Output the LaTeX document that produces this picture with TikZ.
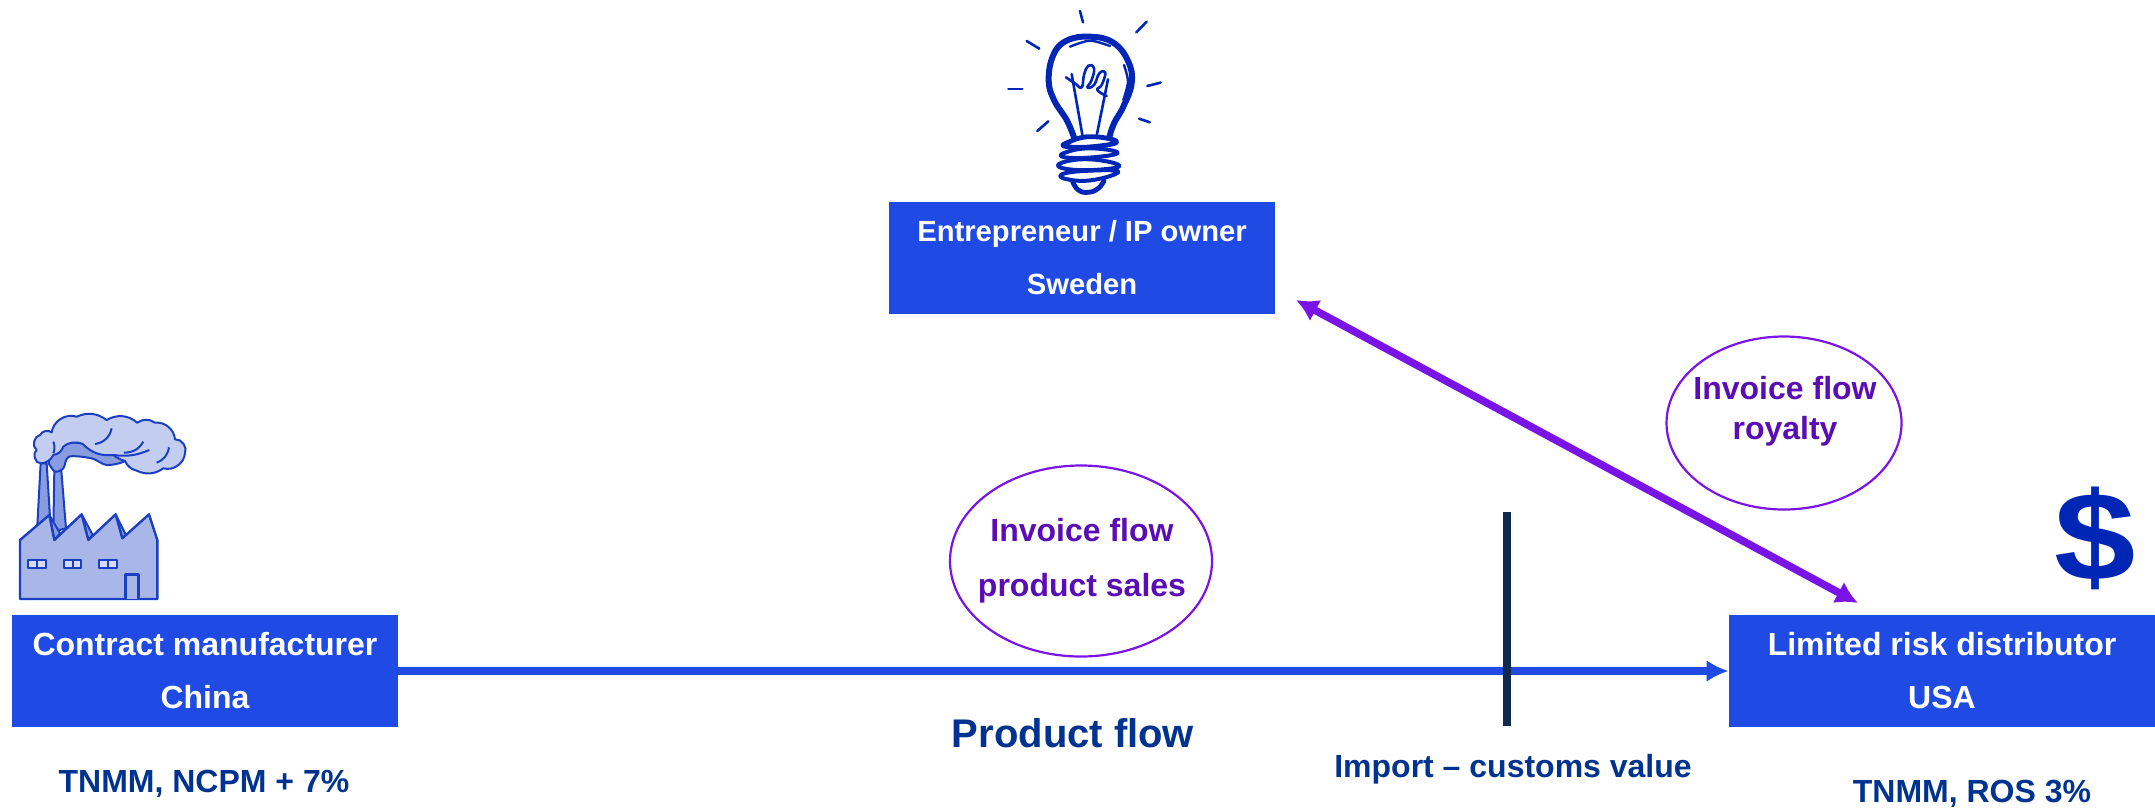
\documentclass[tikz,border=0pt]{standalone}
\usepackage{fontspec}
\setmainfont{Liberation Sans}
\usetikzlibrary{positioning,shapes.geometric,arrows.meta}
\definecolor{boxblue}{HTML}{204AE4}
\definecolor{navytext}{HTML}{00338F}
\definecolor{violettext}{HTML}{5A0DB4}
\definecolor{violetline}{HTML}{7A14E6}
\definecolor{iconblue}{HTML}{0026B5}
\definecolor{barnavy}{HTML}{0F2A4E}
\definecolor{factoryfill}{HTML}{A9B7E8}
\definecolor{cloudfill}{HTML}{C3CDEF}
\definecolor{smokefill}{HTML}{889DE0}
\begin{document}
\begin{tikzpicture}[x=0.5pt,y=-0.5pt,>=latex]

	\tikzset{
		entity/.style={fill=boxblue, text=white, align=center, inner sep=0pt,
			font=\fontsize{16}{26.5}\selectfont\bfseries, minimum height=56pt},
		flowring/.style={draw=violetline, line width=1.1pt, ellipse, inner sep=0pt},
		flowtext/.style={align=center, inner sep=0pt, text=violettext,
			font=\fontsize{16}{27.5}\selectfont\bfseries},
		caption/.style={text=navytext, inner sep=0pt, font=\fontsize{16}{18}\selectfont\bfseries},
		ray/.style={draw=iconblue, line width=1.3pt, line cap=round},
		scribble/.style={draw=iconblue, line width=2pt, line cap=round, line join=round},
		factoryline/.style={draw=boxblue!85!black, line width=1pt, line join=round}
	}

	\useasboundingbox (0,0) rectangle (2155,809);

	% ===== BOXES =====
	\node[entity, minimum width=193pt] (contract) at (205,671) {Contract manufacturer\\China};
	\node[entity, minimum width=193pt, font=\fontsize{14.6}{26.5}\selectfont\bfseries] (owner) at (1082,258) {Entrepreneur / IP owner\\Sweden};
	\node[entity, minimum width=213pt] (distributor) at (1942,671) {Limited risk distributor\\USA};

	% ===== ELLIPSES =====
	\node[flowring, minimum width=131pt, minimum height=95.5pt] (salesring) at (1081,561) {};
	\node[flowtext] (salestag) at (1082,561) {Invoice flow\\product sales};
	\node[flowring, minimum width=117.5pt, minimum height=86.5pt] (royaltyring) at (1784,423) {};
	\node[flowtext, font=\fontsize{16}{20}\selectfont\bfseries] (royaltytag) at (1785,411) {Invoice flow\\royalty};

	% ===== FLOWS =====
	\draw[-{Latex[length=11pt,width=11pt]}, boxblue, line width=3.7pt] (contract.east) -- (distributor.west);

	\coordinate (ownerend) at (1296,300);
	\coordinate (distend) at (1858,603);
	\draw[{Latex[length=11pt,width=12pt]}-{Latex[length=11pt,width=12pt]}, violetline, line width=3.8pt] (ownerend) -- (distend);

	\coordinate (bartop) at (1507,512);
	\coordinate (barbottom) at (1507,726);
	\draw[barnavy, line width=4pt] (bartop) -- (barbottom);

	% ===== TEXTS =====
	\node[caption] (contractmethod) at (204,784) {TNMM, NCPM + 7\%};
	\node[caption] (distmethod) at (1972,794) {TNMM, ROS 3\%};
	\node[caption] (customs) at (1513,769) {Import -- customs value};
	\node[caption, font=\fontsize{20}{24}\selectfont\bfseries] (productflow) at (1073,733) {Product flow};
	\node[inner sep=0pt, text=iconblue, font=\fontsize{63}{63}\selectfont\bfseries] (dollar) at (2095,538) {\scalebox{1.16}[1]{\$}};

	% ===== BULB =====
	\begin{scope}[shift={(950,0)},scale=0.3333]
		\draw[ray] (390,33) -- (399,67);
		\draw[ray] (590,65) -- (559,97);
		\draw[ray] (230,123) -- (268,146);
		\draw[ray] (175,267) -- (217,267);
		\draw[ray] (592,258) -- (632,248);
		\draw[ray] (262,393) -- (295,364);
		\draw[ray] (567,356) -- (600,367);
		% glass
		\draw[scribble, line width=3pt] plot[smooth, tension=0.7] coordinates {(372,412) (350,360) (312,300) (296,240) (310,165) (350,122) (420,110) (490,128) (535,185) (545,250) (520,320) (492,370) (478,412)};
		\draw[scribble, line width=1.2pt] plot[smooth] coordinates {(360,140) (420,122) (480,138)};
		\draw[scribble, line width=1.2pt] plot[smooth] coordinates {(522,195) (534,245) (520,300)};
		% filament
		\draw[scribble, line width=1.3pt] plot[smooth, tension=0.8] coordinates {(348,232) (375,250) (395,262) (402,225) (415,197) (432,205) (425,240) (412,262) (432,255) (448,220) (466,218) (455,255) (442,270) (470,288)};
		\draw[scribble, line width=1.3pt] (365,222) -- (398,410);
		\draw[scribble, line width=1.3pt] (474,238) -- (441,402);
		% screw base
		\draw[scribble, line width=2.4pt] plot[smooth cycle, tension=0.8] coordinates {(352,428) (420,410) (500,425) (430,440) (350,440)};
		\draw[scribble] plot[smooth cycle, tension=0.8] coordinates {(345,458) (420,445) (503,458) (430,472) (345,472)};
		\draw[scribble] plot[smooth cycle, tension=0.8] coordinates {(336,488) (420,478) (508,497) (430,510) (340,505)};
		\draw[scribble] plot[smooth cycle, tension=0.8] coordinates {(338,522) (420,512) (505,515) (430,540) (352,538)};
		\draw[scribble, line width=2.4pt] plot[smooth, tension=0.8] coordinates {(368,545) (385,570) (415,577) (445,565) (462,542)};
	\end{scope}

	% ===== FACTORY =====
	\begin{scope}[shift={(0,400)},scale=0.3333]
		\draw[factoryline, fill=smokefill] (112,375) -- (122,190) -- (140,190) -- (150,350) -- cycle;
		\draw[factoryline, fill=smokefill] (160,395) -- (163,212) -- (184,212) -- (198,385) -- cycle;
		\draw[factoryline, fill=smokefill] plot[smooth, tension=0.5] coordinates {(146,190) (165,215) (190,205) (207,170) (275,175) (320,195) (375,183) (380,150) (250,130) (185,130) (150,160)} -- cycle;
		\draw[factoryline, fill=cloudfill] (122,190) to[bend left=80] (110,150) to[bend left=70] (120,105) to[bend left=50] (155,97)
			to[bend left=50] (230,50) to[bend left=30] (320,60) to[bend left=35] (412,68)
			to[bend left=35] (465,68) to[bend left=45] (525,118) to[bend left=60] (555,160)
			to[bend left=50] (490,205) to[bend left=30] (410,212) to[bend left=25] (375,183)
			to[bend left=10] (340,165) to[bend left=25] (248,132)
			to[bend right=30] (190,140) to[bend left=30] (160,165) to[bend left=30] (122,190) -- cycle;
		\draw[factoryline] (160,125) to[bend left=20] (160,160);
		\draw[factoryline] (335,85) to[bend left=35] (285,132);
		\draw[factoryline] (430,125) to[bend left=30] (372,158);
		\draw[factoryline] (507,142) to[bend left=30] (470,188);
		\draw[factoryline] (340,165) to[bend right=15] (448,150);
		% sheds
		\draw[factoryline, fill=smokefill] (148,345) -- (180,400) -- (163,420) -- cycle;
		\draw[factoryline, fill=smokefill] (245,343) -- (278,405) -- (265,420) -- cycle;
		\draw[factoryline, fill=smokefill] (347,343) -- (378,405) -- (365,418) -- cycle;
		\draw[factoryline, fill=factoryfill, line width=1.2pt] (60,597) -- (60,420) -- (148,345) -- (163,420) -- (245,343) -- (265,420) -- (347,343) -- (367,415) -- (447,343) -- (472,420) -- (472,597) -- cycle;
		\foreach \winx in {85,192,298} {
			\draw[factoryline, fill=cloudfill!70!white] (\winx,479) rectangle ++(52,24);
			\draw[factoryline] (\winx+26,479) -- ++(0,24);
		}
		\draw[factoryline, fill=factoryfill, line width=1.2pt] (376,597) -- (376,523) -- (416,523) -- (416,597);
	\end{scope}

\end{tikzpicture}
\end{document}
